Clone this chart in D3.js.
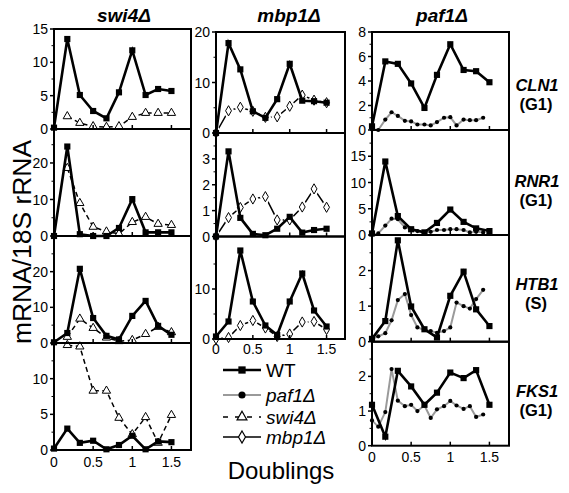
<!DOCTYPE html>
<html><head><meta charset="utf-8">
<script src="https://cdn.jsdelivr.net/npm/d3@7"></script>
<style>body{margin:0;background:#fff} svg text{font-family:"Liberation Sans",Arial,Helvetica,sans-serif;fill:#000}</style>
</head><body><svg id="c" width="569" height="493"></svg>
<script>
// ---------- DATA ----------
const xWT  = [0, 0.17, 0.33, 0.5, 0.67, 0.83, 1.0, 1.17, 1.33, 1.5];
const xPaf = [0, 0.08, 0.17, 0.25, 0.33, 0.42, 0.5, 0.58, 0.67, 0.75, 0.83, 0.92, 1.0, 1.08, 1.17, 1.25, 1.33, 1.42];
const xTickLabels = [0, 0.5, 1, 1.5];

const columnTitles = ["swi4Δ", "mbp1Δ", "paf1Δ"];
const geneLabels = ["CLN1", "RNR1", "HTB1", "FKS1"];
const phaseLabels = ["(G1)", "(G1)", "(S)", "(G1)"];
const legendNames = ["WT", "paf1Δ", "swi4Δ", "mbp1Δ"];

// swi4Δ column
const swi4_CLN1_WT   = [0.2, 13.5, 5.1, 2.7, 1.6, 5.5, 11.8, 5.1, 6.0, 5.7];
const swi4_CLN1_mut  = [null, 1.9, 0.9, 0.4, 0.3, 0.4, 1.8, 2.4, 2.4, 2.4];
const swi4_RNR1_WT   = [0, 24.5, 0.5, 0, 0, 2.2, 10.1, 1.0, 1.0, 1.0];
const swi4_RNR1_mut  = [null, 18.6, 9.0, 2.5, 1.2, 0.6, 3.8, 5.2, 3.3, 3.0];
const swi4_HTB1_WT   = [0.2, 2.8, 20.8, 7.0, 2.0, 1.0, 7.6, 11.8, 4.8, 2.3];
const swi4_HTB1_mut  = [null, 1.7, 6.8, 4.2, 1.5, 0.5, 0.8, 2.5, 4.5, 3.0];
const swi4_FKS1_WT   = [0.2, 3.0, 1.0, 1.3, 0.1, 0.7, 2.0, 0.1, 1.2, 1.1];
const swi4_FKS1_mut  = [null, 14.7, 14.5, 8.3, 8.3, 4.5, 2.2, 4.6, 1.0, 4.9];

// mbp1Δ column
const mbp1_CLN1_WT   = [0, 17.8, 12.6, 4.3, 3.0, 6.7, 13.7, 6.4, 6.3, 6.0];
const mbp1_CLN1_mut  = [0, 4.4, 5.1, 4.3, 3.1, 3.2, 5.3, 7.5, 6.5, 6.0];
const mbp1_RNR1_WT   = [0, 3.29, 0.72, 0.1, 0.05, 0.3, 0.76, 0.15, 0.25, 0.3];
const mbp1_RNR1_mut  = [0, 0.73, 1.12, 1.45, 1.54, 0.64, 0.64, 1.14, 1.84, 1.13];
const mbp1_HTB1_WT   = [0.5, 3.5, 17.7, 7.5, 2.7, 0.8, 7.5, 13.1, 5.7, 2.5];
const mbp1_HTB1_mut  = [0, 0.3, 2.7, 3.7, 2.2, 0.5, 1.0, 3.4, 3.5, 1.9];

// paf1Δ column
const paf1_CLN1_WT   = [0.3, 5.6, 5.4, 3.8, 1.8, 4.5, 7.0, 4.9, 4.8, 3.9];
const paf1_CLN1_mut  = [0.05, 0, 0.85, 1.45, 1.15, 0.75, 0.7, 0.45, 0.45, 0.37, 0.65, 1.0, 1.05, 0.37, 0.85, 0.8, 0.8, 1.0];
const paf1_RNR1_WT   = [0.3, 14.0, 3.6, 1.1, 0.5, 2.3, 4.85, 2.5, 1.26, 0.75];
const paf1_RNR1_mut  = [0, 0.3, 1.8, 3.1, 3.0, 1.45, 1.1, 0.75, 0.5, 0.6, 0.95, 0.95, 1.1, 1.1, 0.95, 0.5, 0.6, 0.5];
const paf1_HTB1_WT   = [0.08, 0.58, 2.85, 0.99, 0.35, 0.12, 1.29, 1.97, 0.91, 0.44];
const paf1_HTB1_mut  = [0.08, 0.15, 0.24, 0.6, 1.17, 1.34, 0.75, 0.4, 0.33, 0.3, 0.25, 0.3, 0.4, 1.1, 1.0, 0.93, 1.2, 1.46];
const paf1_FKS1_WT   = [1.18, 0.26, 2.16, 1.71, 1.18, 1.53, 2.11, 1.95, 2.18, 1.18];
const paf1_FKS1_mut  = [0.73, 0.55, 0.97, 2.21, 1.3, 1.14, 1.18, 1.0, 1.16, 0.8, 1.05, 1.14, 1.29, 1.16, 1.06, 1.14, 0.83, 0.9];

// ---------- LAYOUT ----------
const styles = {
  WT:   {stroke:"#000", width:2.6, dash:null, sym:d3.symbolSquare, size:38, fill:"#000"},
  paf1: {stroke:"#9a9a9a", width:2, dash:null, sym:d3.symbolCircle, size:14, fill:"#000"},
  swi4: {stroke:"#000", width:1.5, dash:"5,3.5", sym:d3.symbolTriangle, size:30, fill:"#fff"},
  mbp1: {stroke:"#000", width:1.5, dash:null, sym:d3.symbolDiamond, size:30, fill:"#fff", halo:true}
};

const columns = [
  {title:columnTitles[0], x0:54, x1:191, titleX:124, mut:"swi4", xMutArr:xWT, labelY:462,
   panels:[
    {top:29, bottom:129, dom:[0,15], ticks:[0,5,10,15], minor:[2.5,7.5,12.5], wt:swi4_CLN1_WT, m:swi4_CLN1_mut},
    {top:129, bottom:236, dom:[0,29.3], ticks:[0,10,20], minor:[5,15,25], wt:swi4_RNR1_WT, m:swi4_RNR1_mut},
    {top:236, bottom:343, dom:[0,30], ticks:[0,10,20], minor:[5,15,25], wt:swi4_HTB1_WT, m:swi4_HTB1_mut},
    {top:343, bottom:450, dom:[0,15], ticks:[0,5,10], minor:[2.5,7.5,12.5], wt:swi4_FKS1_WT, m:swi4_FKS1_mut}
   ]},
  {title:columnTitles[1], x0:216, x1:345, titleX:289, mut:"mbp1", xMutArr:xWT, labelY:349,
   panels:[
    {top:32, bottom:133, dom:[0,20], ticks:[0,10,20], minor:[5,15], wt:mbp1_CLN1_WT, m:mbp1_CLN1_mut},
    {top:133, bottom:236.5, dom:[0,4], ticks:[0,1,2,3], minor:[0.5,1.5,2.5,3.5], wt:mbp1_RNR1_WT, m:mbp1_RNR1_mut},
    {top:236.5, bottom:339, dom:[0,20.5], ticks:[0,10], minor:[5,15], wt:mbp1_HTB1_WT, m:mbp1_HTB1_mut}
   ]},
  {title:columnTitles[2], x0:372, x1:509, titleX:442, mut:"paf1", xMutArr:xPaf, labelY:457,
   panels:[
    {top:32, bottom:130, dom:[0,8], ticks:[0,2,4,6,8], minor:[1,3,5,7], wt:paf1_CLN1_WT, m:paf1_CLN1_mut},
    {top:130, bottom:235, dom:[0,20], ticks:[0,5,10,15], minor:[2.5,7.5,12.5,17.5], wt:paf1_RNR1_WT, m:paf1_RNR1_mut},
    {top:235, bottom:341.7, dom:[0,3], ticks:[0,1,2], minor:[0.5,1.5,2.5], wt:paf1_HTB1_WT, m:paf1_HTB1_mut},
    {top:341.7, bottom:445.7, dom:[0,3], ticks:[0,1,2], minor:[0.5,1.5,2.5], wt:paf1_FKS1_WT, m:paf1_FKS1_mut}
   ]}
];
const geneY = [[85,104],[181,200],[284,303],[391,410]];

const svg = d3.select("#c");

function drawSeries(g, xs, ys, x, y, st){
  const pts = xs.map((v,i)=>[v, ys[i]]);
  const line = d3.line().defined(d=>d[1]!=null).x(d=>x(d[0])).y(d=>y(d[1]));
  g.append("path").attr("d", line(pts)).attr("fill","none")
    .attr("stroke", st.stroke).attr("stroke-width", st.width)
    .attr("stroke-dasharray", st.dash).attr("stroke-linejoin","miter");
  const valid = pts.filter(d=>d[1]!=null);
  if (st.halo) {
    g.selectAll(null).data(valid).join("path")
      .attr("d", d3.symbol().type(st.sym).size(st.size)())
      .attr("transform", d=>`translate(${x(d[0])},${y(d[1])})`)
      .attr("fill", "#fff").attr("stroke", "#fff").attr("stroke-width", 5);
  }
  g.selectAll(null).data(valid).join("path")
    .attr("d", d3.symbol().type(st.sym).size(st.size)())
    .attr("transform", d=>`translate(${x(d[0])},${y(d[1])})`)
    .attr("fill", st.fill)
    .attr("stroke", st.fill==="#fff" ? "#000" : "none")
    .attr("stroke-width", 1);
}

columns.forEach(col=>{
  const x = d3.scaleLinear().domain([0,1.75]).range([col.x0, col.x1]);
  svg.append("text").attr("x", col.titleX).attr("y", 22).attr("text-anchor","middle")
    .attr("font-size", 19).attr("font-weight","bold").attr("font-style","italic").text(col.title);
  col.panels.forEach((p, pi)=>{
    const y = d3.scaleLinear().domain(p.dom).range([p.bottom, p.top]);
    const g = svg.append("g");
    drawSeries(g, col.xMutArr, p.m, x, y, styles[col.mut]);
    drawSeries(g, xWT, p.wt, x, y, styles.WT);
    const fr = svg.append("g").attr("stroke","#000").attr("stroke-width",2).attr("fill","none");
    fr.append("rect").attr("x", col.x0).attr("y", p.top).attr("width", col.x1-col.x0).attr("height", p.bottom-p.top);
    const ax = svg.append("g");
    ax.selectAll(null).data(p.ticks).join("line")
      .attr("x1", col.x0-4).attr("x2", col.x0).attr("y1", d=>y(d)).attr("y2", d=>y(d))
      .attr("stroke","#000").attr("stroke-width",1.5);
    ax.selectAll(null).data(p.minor).join("line")
      .attr("x1", col.x0-2.5).attr("x2", col.x0).attr("y1", d=>y(d)).attr("y2", d=>y(d))
      .attr("stroke","#000").attr("stroke-width",1);
    const showTop = pi===0;
    ax.selectAll(null).data(p.ticks.filter(t=> showTop || t < p.dom[1]-0.5*(p.ticks[1]-p.ticks[0]))).join("text")
      .attr("x", col.x0-6).attr("y", d=>y(d)).attr("dy","0.36em")
      .attr("text-anchor","end").attr("font-size",14).text(d=>d);
    ax.selectAll(null).data([0.5,1,1.5]).join("line")
      .attr("x1", d=>x(d)).attr("x2", d=>x(d)).attr("y1", p.bottom).attr("y2", p.bottom-4)
      .attr("stroke","#000").attr("stroke-width",1.5);
  });
  svg.append("g").selectAll(null).data(xTickLabels).join("text")
    .attr("x", d=>x(d)).attr("y", col.labelY).attr("dy","0.36em").attr("text-anchor","middle")
    .attr("font-size",14).text(d=>d);
});

// gene labels
geneLabels.forEach((gname,i)=>{
  svg.append("text").attr("x",537).attr("y",geneY[i][0]).attr("dy","0.36em").attr("text-anchor","middle")
    .attr("font-size",16.5).attr("font-weight","bold").attr("font-style","italic").text(gname);
  svg.append("text").attr("x",536).attr("y",geneY[i][1]).attr("dy","0.36em").attr("text-anchor","middle")
    .attr("font-size",16.5).attr("font-weight","bold").text(phaseLabels[i]);
});

// y title
svg.append("text").attr("transform","translate(22,242) rotate(-90)").attr("text-anchor","middle")
  .attr("dy","0.36em").attr("font-size",25).attr("textLength",204).attr("lengthAdjust","spacingAndGlyphs")
  .text("mRNA/18S rRNA");

// legend
const legKeys = ["WT","paf1","swi4","mbp1"];
const legY = [370, 395, 417, 437];
legKeys.forEach((k,i)=>{
  const st = styles[k];
  const g = svg.append("g");
  g.append("line").attr("x1",223).attr("x2",261).attr("y1",legY[i]).attr("y2",legY[i])
    .attr("stroke", st.stroke).attr("stroke-width", st.width).attr("stroke-dasharray", k==="swi4"?"5,7":st.dash);
  g.append("path").attr("d", d3.symbol().type(st.sym).size(k==="paf1"?40:st.size*1.4)())
    .attr("transform",`translate(242,${legY[i]})`).attr("fill", st.fill)
    .attr("stroke", st.fill==="#fff"?"#000":"none").attr("stroke-width",1.2);
  g.append("text").attr("x",266).attr("y",legY[i]).attr("dy","0.36em").attr("font-size",19)
    .attr("font-style", i===0?"normal":"italic").text(legendNames[i]);
});

svg.append("text").attr("x",281).attr("y",470).attr("dy","0.36em").attr("text-anchor","middle")
  .attr("font-size",24).text("Doublings");
</script></body></html>
